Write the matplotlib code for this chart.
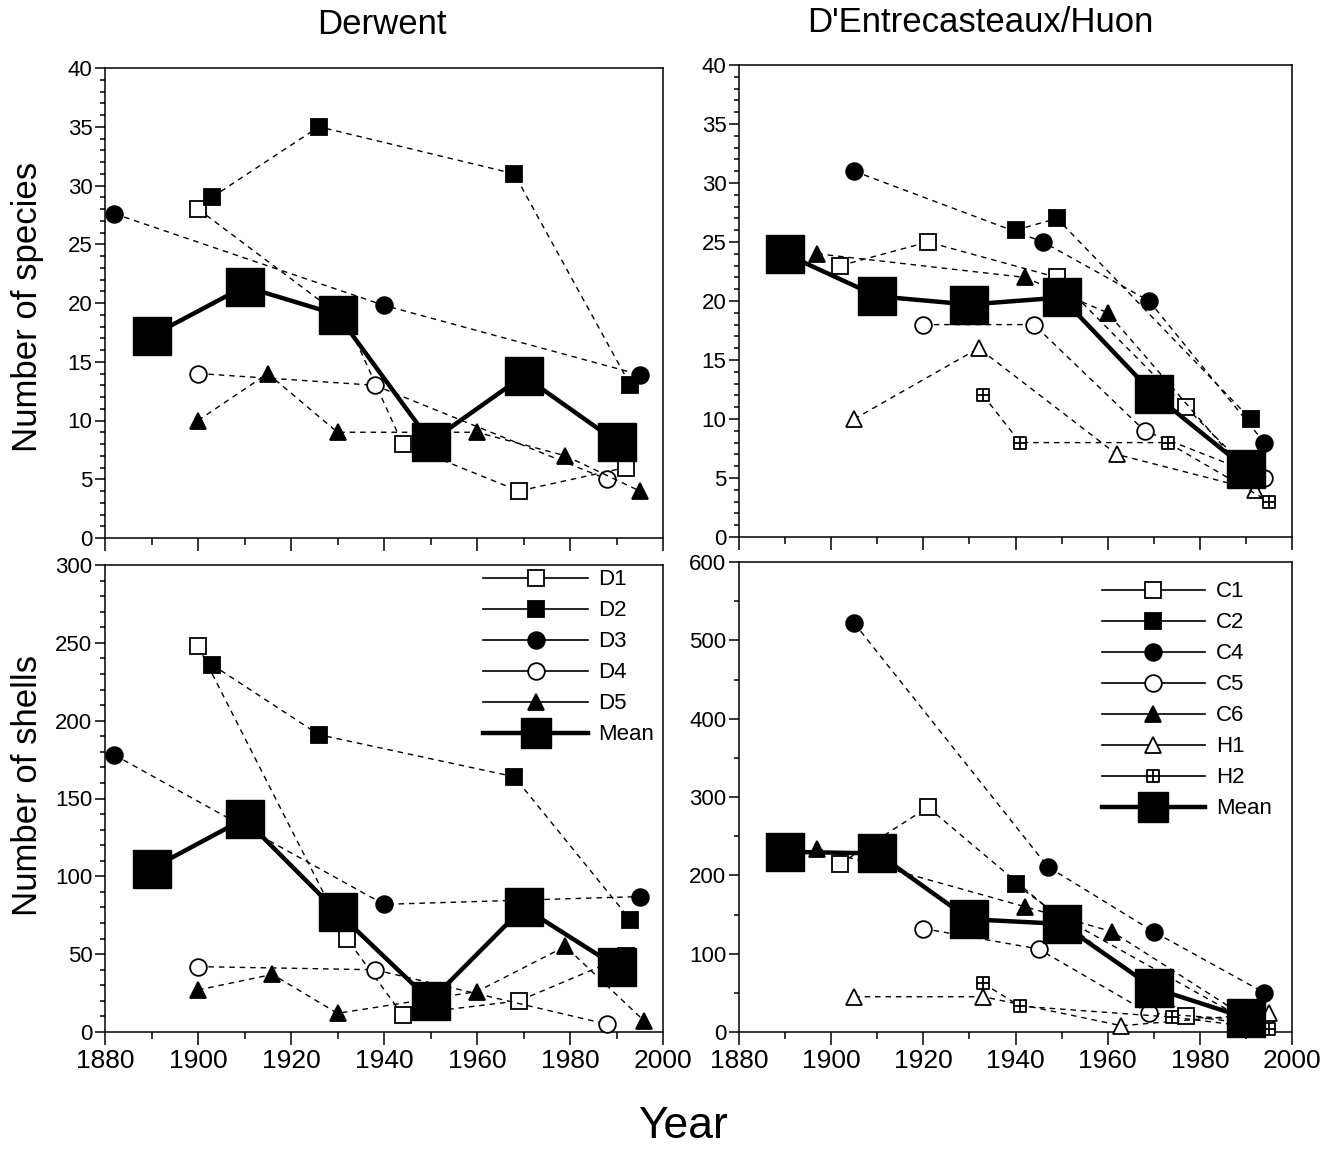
import matplotlib
matplotlib.use('Agg')
import matplotlib.pyplot as plt
from matplotlib.path import Path
from matplotlib.lines import Line2D
from matplotlib.ticker import MultipleLocator

plt.rcParams['font.family'] = ['Liberation Sans', 'DejaVu Sans']

# ---- Derwent, number of species
d_sp_years = {
    'D1': [1900, 1932, 1944, 1969, 1992],
    'D2': [1903, 1926, 1968, 1993],
    'D3': [1882, 1940, 1995],
    'D4': [1900, 1938, 1988],
    'D5': [1900, 1915, 1930, 1960, 1979, 1995],
}
d_sp_vals = {
    'D1': [28, 18.5, 8, 4, 6],
    'D2': [29, 35, 31, 13],
    'D3': [27.6, 19.8, 13.9],
    'D4': [14, 13, 5],
    'D5': [10, 14, 9, 9, 7, 4],
}
# ---- Derwent, number of shells
d_sh_years = {
    'D1': [1900, 1932, 1944, 1969, 1992],
    'D2': [1903, 1926, 1968, 1993],
    'D3': [1882, 1940, 1995],
    'D4': [1900, 1938, 1988],
    'D5': [1900, 1916, 1930, 1960, 1979, 1996],
}
d_sh_vals = {
    'D1': [248, 60, 11, 20, 49],
    'D2': [236, 191, 164, 72],
    'D3': [178, 82, 87],
    'D4': [42, 40, 5],
    'D5': [27, 37, 12, 26, 55, 7],
}
# ---- D'Entrecasteaux/Huon, number of species
c_sp_years = {
    'C1': [1902, 1921, 1949, 1977, 1991],
    'C2': [1940, 1949, 1991],
    'C4': [1905, 1946, 1969, 1994],
    'C5': [1920, 1944, 1968, 1994],
    'C6': [1897, 1942, 1960, 1991],
    'H1': [1905, 1932, 1962, 1992],
    'H2': [1933, 1941, 1973, 1995],
}
c_sp_vals = {
    'C1': [23, 25, 22, 11, 5.5],
    'C2': [26, 27, 10],
    'C4': [31, 25, 20, 8],
    'C5': [18, 18, 9, 5],
    'C6': [24, 22, 19, 5],
    'H1': [10, 16, 7, 4],
    'H2': [12, 8, 8, 3],
}
# ---- D'Entrecasteaux/Huon, number of shells
c_sh_years = {
    'C1': [1902, 1921, 1949, 1977, 1991],
    'C2': [1940, 1949, 1991],
    'C4': [1905, 1947, 1970, 1994],
    'C5': [1920, 1945, 1969, 1994],
    'C6': [1897, 1942, 1961, 1991],
    'H1': [1905, 1933, 1963, 1995],
    'H2': [1933, 1941, 1974, 1995],
}
c_sh_vals = {
    'C1': [215, 287, 148, 21, 10],
    'C2': [189, 150, 12],
    'C4': [522, 211, 128, 50],
    'C5': [132, 106, 24, 14],
    'C6': [234, 160, 128, 15],
    'H1': [45, 45, 8, 24],
    'H2': [62, 33, 19, 4],
}

mean_years = [1890, 1910, 1930, 1950, 1970, 1990]
d_sp_mean = [17.2, 21.4, 19.0, 8.2, 13.8, 8.2]
d_sh_mean = [105, 137, 77, 20, 80, 42]
c_sp_mean = [24.0, 20.4, 19.7, 20.3, 12.1, 5.8]
c_sh_mean = [230, 228, 144, 138, 56, 18]

# square with a cross inside, for H2
boxplus = Path([(-1, -1), (1, -1), (1, 1), (-1, 1), (-1, -1), (0, -1), (0, 1), (-1, 0), (1, 0)],
               [Path.MOVETO, Path.LINETO, Path.LINETO, Path.LINETO, Path.CLOSEPOLY,
                Path.MOVETO, Path.LINETO, Path.MOVETO, Path.LINETO])

styles = {
    'D1': ('s', 'white', 12), 'D2': ('s', 'black', 12), 'D3': ('o', 'black', 12),
    'D4': ('o', 'white', 12), 'D5': ('^', 'black', 11),
    'C1': ('s', 'white', 12), 'C2': ('s', 'black', 12), 'C4': ('o', 'black', 12),
    'C5': ('o', 'white', 12), 'C6': ('^', 'black', 11), 'H1': ('^', 'white', 11),
    'H2': (boxplus, 'white', 8.5),
}

W, H = 1333, 1149
fig = plt.figure(figsize=(W / 100, H / 100), dpi=100)


def box(x0, y0, x1, y1):
    return [x0 / W, 1 - y1 / H, (x1 - x0) / W, (y1 - y0) / H]


ax_tl = fig.add_axes(box(105, 68, 663, 538))
ax_bl = fig.add_axes(box(105, 565, 663, 1032))
ax_tr = fig.add_axes(box(739, 65, 1292, 537))
ax_br = fig.add_axes(box(739, 562, 1292, 1032))


def draw(ax, years, vals, mean):
    for k in years:
        m, fc, ms = styles[k]
        ax.plot(years[k], vals[k], color='black', lw=1.0, ls=(0, (4, 3.5)),
                marker=m, ms=ms, mfc=fc, mec='black', mew=1.3, clip_on=False, zorder=3)
    ax.plot(mean_years, mean, color='black', lw=3.2, marker='s', ms=28,
            mfc='black', mec='black', clip_on=False, zorder=5)


draw(ax_tl, d_sp_years, d_sp_vals, d_sp_mean)
draw(ax_bl, d_sh_years, d_sh_vals, d_sh_mean)
draw(ax_tr, c_sp_years, c_sp_vals, c_sp_mean)
draw(ax_br, c_sh_years, c_sh_vals, c_sh_mean)

for ax, top, major, minor in [(ax_tl, 40, 5, 1), (ax_tr, 40, 5, 1),
                              (ax_bl, 300, 50, 10), (ax_br, 600, 100, 50)]:
    ax.set_xlim(1880, 2000)
    ax.set_ylim(0, top)
    ax.xaxis.set_major_locator(MultipleLocator(20))
    ax.xaxis.set_minor_locator(MultipleLocator(10))
    ax.yaxis.set_major_locator(MultipleLocator(major))
    ax.yaxis.set_minor_locator(MultipleLocator(minor))
    ax.tick_params(axis='x', which='major', direction='out', length=9, width=1.1, labelsize=19, pad=3)
    ax.tick_params(axis='x', which='minor', direction='out', length=5, width=1.1)
    ax.tick_params(axis='y', which='major', direction='out', length=7, width=1.1, labelsize=16, pad=2)
    ax.tick_params(axis='y', which='minor', direction='out', length=3.5, width=1.1)
    for s in ax.spines.values():
        s.set_linewidth(1.1)

ax_tl.tick_params(axis='x', labelbottom=False)
ax_tr.tick_params(axis='x', labelbottom=False)


def legend_handles(names):
    hs = []
    for k in names:
        m, fc, ms = styles[k]
        hs.append(Line2D([], [], color='black', lw=1.2, marker=m, ms=ms, mfc=fc,
                         mec='black', mew=1.3))
    hs.append(Line2D([], [], color='black', lw=3.2, marker='s', ms=21, mfc='black'))
    return hs


dn = ['D1', 'D2', 'D3', 'D4', 'D5']
cn = ['C1', 'C2', 'C4', 'C5', 'C6', 'H1', 'H2']
ax_bl.legend(legend_handles(dn), dn + ['Mean'], loc='upper left', bbox_to_anchor=(0.67, 1.0),
             frameon=False, fontsize=16, handlelength=4.7, handletextpad=0.45,
             labelspacing=0.45, borderpad=0.2, borderaxespad=0, numpoints=1)
ax_br.legend(legend_handles(cn), cn + ['Mean'], loc='upper left', bbox_to_anchor=(0.649, 0.968),
             frameon=False, fontsize=16, handlelength=4.6, handletextpad=0.5,
             labelspacing=0.45, borderpad=0.2, borderaxespad=0, numpoints=1)

fig.text(382 / W, 1 - 25 / H, 'Derwent', ha='center', va='center', fontsize=25)
fig.text(980 / W, 1 - 22 / H, "D'Entrecasteaux/Huon", ha='center', va='center', fontsize=25)
fig.text(28 / W, 1 - 307 / H, 'Number of species', ha='center', va='center', rotation=90, fontsize=25)
fig.text(28 / W, 1 - 785 / H, 'Number of shells', ha='center', va='center', rotation=90, fontsize=25)
fig.text(683 / W, 1 - 1126 / H, 'Year', ha='center', va='center', fontsize=32)

fig.savefig('out.png', dpi=100)
